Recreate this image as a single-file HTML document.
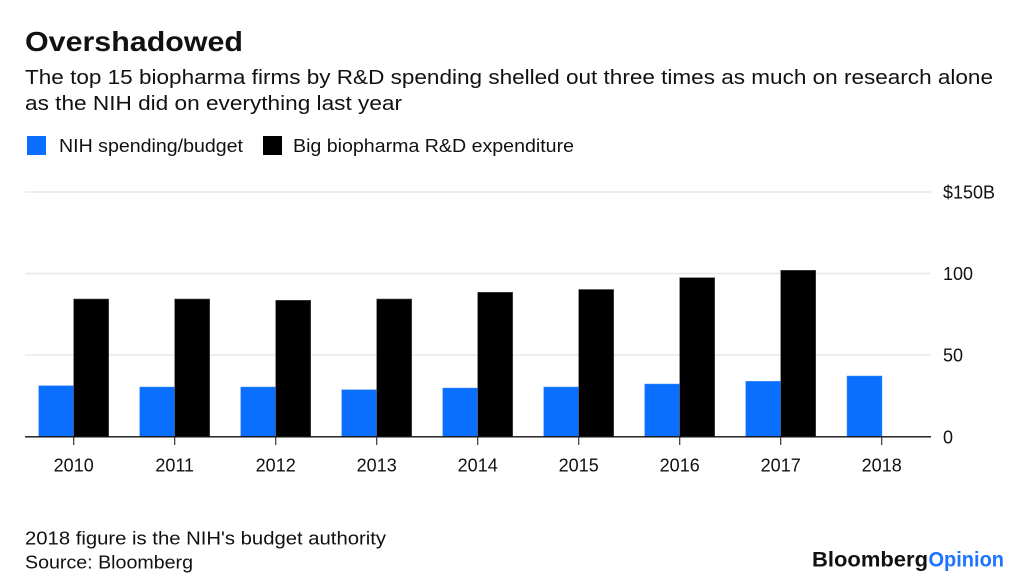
<!DOCTYPE html>
<html>
<head>
<meta charset="utf-8">
<style>
  html, body { margin: 0; padding: 0; background: #ffffff; }
  body { width: 1024px; height: 584px; overflow: hidden; }
  svg { display: block; }
  text { font-family: "Liberation Sans", "DejaVu Sans", sans-serif; fill: #111111; }
</style>
</head>
<body>
<svg width="1024" height="584" viewBox="0 0 1024 584" xmlns="http://www.w3.org/2000/svg">
  <rect x="0" y="0" width="1024" height="584" fill="#ffffff"/>

  <!-- Title -->
  <text x="25" y="51" font-size="28" font-weight="bold" textLength="218" lengthAdjust="spacingAndGlyphs">Overshadowed</text>
  <!-- Subtitle -->
  <text x="25" y="84" font-size="20" textLength="968" lengthAdjust="spacingAndGlyphs">The top 15 biopharma firms by R&amp;D spending shelled out three times as much on research alone</text>
  <text x="25" y="110" font-size="20" textLength="377" lengthAdjust="spacingAndGlyphs">as the NIH did on everything last year</text>

  <!-- Legend -->
  <rect x="27" y="136" width="19" height="19" fill="#0a6eff"/>
  <text x="59" y="152" font-size="18" textLength="184" lengthAdjust="spacingAndGlyphs">NIH spending/budget</text>
  <rect x="263" y="136" width="19" height="19" fill="#000000"/>
  <text x="293" y="152" font-size="18" textLength="281" lengthAdjust="spacingAndGlyphs">Big biopharma R&amp;D expenditure</text>

  <!-- Gridlines -->
  <g stroke="#e8e8e8" stroke-width="1.5">
    <line x1="25" y1="192" x2="931" y2="192"/>
    <line x1="25" y1="273.5" x2="931" y2="273.5"/>
    <line x1="25" y1="355" x2="931" y2="355"/>
  </g>

  <!-- Y labels -->
  <text x="943" y="198.5" font-size="18">$150B</text>
  <text x="943" y="280" font-size="18">100</text>
  <text x="943" y="361.5" font-size="18">50</text>
  <text x="943" y="443.5" font-size="18">0</text>

  <!-- Bars -->
  <g fill="#0a6eff" stroke="#4d95ff" stroke-width="0.5">
    <rect x="38.7" y="385.7" width="35" height="51"/>
    <rect x="139.7" y="387" width="35" height="49.7"/>
    <rect x="240.7" y="387" width="35" height="49.7"/>
    <rect x="341.7" y="389.7" width="35" height="47"/>
    <rect x="442.7" y="388" width="35" height="48.7"/>
    <rect x="543.7" y="387" width="35" height="49.7"/>
    <rect x="644.7" y="384" width="35" height="52.7"/>
    <rect x="745.7" y="381.3" width="35" height="55.4"/>
    <rect x="847" y="376" width="35" height="60.7"/>
  </g>
  <g fill="#000000" stroke="#555555" stroke-width="0.6">
    <rect x="73.7" y="299" width="35" height="137.7"/>
    <rect x="174.7" y="299" width="35" height="137.7"/>
    <rect x="275.7" y="300.3" width="35" height="136.4"/>
    <rect x="376.7" y="299" width="35" height="137.7"/>
    <rect x="477.7" y="292.3" width="35" height="144.4"/>
    <rect x="578.7" y="289.5" width="35" height="147.2"/>
    <rect x="679.7" y="277.7" width="35" height="159"/>
    <rect x="780.7" y="270.3" width="35" height="166.4"/>
  </g>

  <!-- Baseline -->
  <line x1="25" y1="436.8" x2="931" y2="436.8" stroke="#111111" stroke-width="1.3"/>
  <!-- Ticks -->
  <g stroke="#333333" stroke-width="1.2">
    <line x1="73.7" y1="437" x2="73.7" y2="445"/>
    <line x1="174.7" y1="437" x2="174.7" y2="445"/>
    <line x1="275.7" y1="437" x2="275.7" y2="445"/>
    <line x1="376.7" y1="437" x2="376.7" y2="445"/>
    <line x1="477.7" y1="437" x2="477.7" y2="445"/>
    <line x1="578.7" y1="437" x2="578.7" y2="445"/>
    <line x1="679.7" y1="437" x2="679.7" y2="445"/>
    <line x1="780.7" y1="437" x2="780.7" y2="445"/>
    <line x1="881.7" y1="437" x2="881.7" y2="445"/>
  </g>

  <!-- X labels -->
  <g font-size="18" text-anchor="middle">
    <text x="73.7" y="471.5">2010</text>
    <text x="174.7" y="471.5">2011</text>
    <text x="275.7" y="471.5">2012</text>
    <text x="376.7" y="471.5">2013</text>
    <text x="477.7" y="471.5">2014</text>
    <text x="578.7" y="471.5">2015</text>
    <text x="679.7" y="471.5">2016</text>
    <text x="780.7" y="471.5">2017</text>
    <text x="881.7" y="471.5">2018</text>
  </g>

  <!-- Footer -->
  <text x="25" y="544.5" font-size="18" textLength="361" lengthAdjust="spacingAndGlyphs">2018 figure is the NIH's budget authority</text>
  <text x="25" y="568.5" font-size="18" textLength="168" lengthAdjust="spacingAndGlyphs">Source: Bloomberg</text>

  <!-- Logo -->
  <text x="812" y="566.7" font-size="21" font-weight="bold" textLength="116" lengthAdjust="spacingAndGlyphs" fill="#000000">Bloomberg</text>
  <text x="928.5" y="566.7" font-size="21" font-weight="bold" textLength="75.5" lengthAdjust="spacingAndGlyphs" style="fill:#1f74ff">Opinion</text>
</svg>
</body>
</html>
